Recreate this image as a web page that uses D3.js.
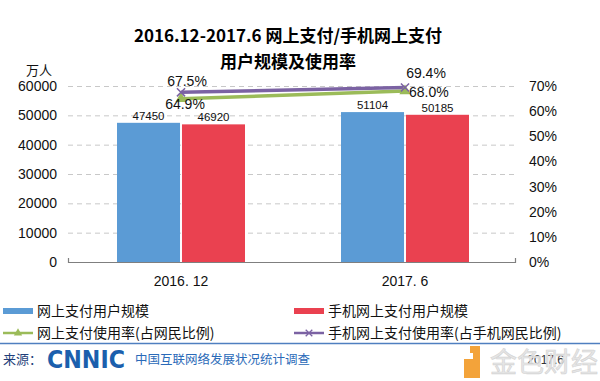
<!DOCTYPE html>
<html><head><meta charset="utf-8">
<script src="https://cdn.jsdelivr.net/npm/d3@7"></script>
<style>
body{margin:0;background:#fff;}
svg{display:block;font-family:Arial,"Liberation Sans","Noto Sans CJK SC",sans-serif;}
.cjk{font-family:"Noto Sans CJK SC",sans-serif;}
</style></head>
<body><svg id="c" width="600" height="381"></svg>
<script>
const categories = ["2016. 12", "2017. 6"];
const seriesNames = ["网上支付用户规模", "手机网上支付用户规模"];
const onlineUsers = [47450, 51104];
const mobileUsers = [46920, 50185];
const rateNames = ["网上支付使用率(占网民比例)", "手机网上支付使用率(占手机网民比例)"];
const onlineRate = [64.9, 68.0];
const mobileRate = [67.5, 69.4];
const leftTicks = [0, 10000, 20000, 30000, 40000, 50000, 60000];
const rightTicks = [0, 10, 20, 30, 40, 50, 60, 70];

const svg = d3.select("#c");
const blue = "#5b9bd5", red = "#ea4150", green = "#9bbb59", purple = "#7b62a3";

const x = d3.scalePoint().domain(categories).range([69, 517]).padding(0.5);
const xs = d3.scaleBand().domain(seriesNames).range([-64, 64]).paddingInner(0.03);
const yL = d3.scaleLinear().domain([0, 60000]).range([262, 86]);
const yR = d3.scaleLinear().domain([0, 70]).range([262, 86]);

// title
svg.append("text").attr("class","cjk").attr("x",288).attr("y",42).attr("text-anchor","middle")
  .attr("font-size",17).attr("font-weight","bold").attr("fill","#000")
  .text("2016.12-2017.6 网上支付/手机网上支付");
svg.append("text").attr("class","cjk").attr("x",288).attr("y",68).attr("text-anchor","middle")
  .attr("font-size",17).attr("font-weight","bold").attr("fill","#000")
  .text("用户规模及使用率");

// grid
const grid = svg.append("g").attr("transform","translate(68,0)")
  .call(d3.axisLeft(yL).tickValues(leftTicks.slice(1)).tickSize(-447).tickFormat(""));
grid.select(".domain").remove();
grid.selectAll("line").attr("stroke","#c8c8c8").attr("stroke-dasharray","5,4");

// left axis labels
const la = svg.append("g").attr("transform","translate(57,0)")
  .call(d3.axisLeft(yL).tickValues(leftTicks).tickSize(0).tickPadding(0).tickFormat(d3.format("d")));
la.select(".domain").remove();
la.selectAll("text").attr("font-size",14).attr("fill","#111").attr("font-family","Arial,'Liberation Sans',sans-serif");
svg.append("text").attr("class","cjk").attr("x",39).attr("y",75).attr("text-anchor","middle")
  .attr("font-size",13).attr("fill","#111").text("万人");

// right axis labels
const ra = svg.append("g").attr("transform","translate(529,0)")
  .call(d3.axisRight(yR).tickValues(rightTicks).tickSize(0).tickPadding(0).tickFormat(d => d + "%"));
ra.select(".domain").remove();
ra.selectAll("text").attr("font-size",14).attr("fill","#111").attr("font-family","Arial,'Liberation Sans',sans-serif");

// bars
const barData = [];
categories.forEach((c,i) => {
  barData.push({c, s: seriesNames[0], v: onlineUsers[i], col: blue});
  barData.push({c, s: seriesNames[1], v: mobileUsers[i], col: red});
});
svg.append("g").selectAll("rect").data(barData).join("rect")
  .attr("x", d => x(d.c) + xs(d.s)).attr("width", xs.bandwidth())
  .attr("y", d => yL(d.v)).attr("height", d => yL(0) - yL(d.v))
  .attr("fill", d => d.col);
svg.append("g").selectAll("text").data(barData).join("text")
  .attr("x", d => x(d.c) + xs(d.s) + xs.bandwidth()/2).attr("y", d => yL(d.v) - 3)
  .attr("text-anchor","middle").attr("font-size",11.5).attr("fill","#111")
  .text(d => d.v);

// axis baseline
const base = svg.append("g");
base.append("path").attr("d", `M68.5,258V262.5H515.5V258`).attr("fill","none").attr("stroke","#7f7f7f").attr("stroke-width",1.2);

// x labels
svg.append("g").selectAll("text").data(categories).join("text")
  .attr("x", d => x(d)).attr("y", 286).attr("text-anchor","middle")
  .attr("font-size",14).attr("fill","#111").text(d => d);

// lines
const line = d3.line().x((d,i) => x(categories[i])).y(d => yR(d));
svg.append("path").datum(onlineRate).attr("d", line).attr("fill","none").attr("stroke",green).attr("stroke-width",3.5);
svg.append("path").datum(mobileRate).attr("d", line).attr("fill","none").attr("stroke",purple).attr("stroke-width",3.5);
const tri = d3.symbol().type(d3.symbolTriangle).size(55);
svg.append("g").selectAll("path").data(onlineRate).join("path")
  .attr("d", tri).attr("transform",(d,i)=>`translate(${x(categories[i])},${yR(d)})`).attr("fill",green);
svg.append("g").selectAll("path").data(mobileRate).join("path")
  .attr("d", d3.symbol().type(d3.symbolX).size(45)).attr("transform",(d,i)=>`translate(${x(categories[i])},${yR(d)})`)
  .attr("fill","none").attr("stroke",purple).attr("stroke-width",1.5);

// rate labels
const fmt = d => d.toFixed(1) + "%";
const rl = svg.append("g").attr("font-size",14).attr("fill","#111");
rl.append("text").attr("x", x(categories[0]) + 6).attr("y", yR(mobileRate[0]) - 6).attr("text-anchor","middle").text(fmt(mobileRate[0]));
rl.append("text").attr("x", x(categories[0]) + 4).attr("y", yR(onlineRate[0]) + 10).attr("text-anchor","middle").text(fmt(onlineRate[0]));
rl.append("text").attr("x", x(categories[1]) + 21).attr("y", yR(mobileRate[1]) - 10).attr("text-anchor","middle").text(fmt(mobileRate[1]));
rl.append("text").attr("x", x(categories[1]) + 4).attr("y", yR(onlineRate[1]) + 6).attr("text-anchor","start").text(fmt(onlineRate[1]));

// legend
const leg = svg.append("g").attr("class","cjk").attr("font-size",14).attr("fill","#111");
const legItems = [
  {x:3, y:311, t:seriesNames[0], col:blue, kind:"bar"},
  {x:294, y:311, t:seriesNames[1], col:red, kind:"bar"},
  {x:3, y:333, t:rateNames[0], col:green, kind:"tri"},
  {x:294, y:333, t:rateNames[1], col:purple, kind:"x"}
];
legItems.forEach(d => {
  if (d.kind === "bar") {
    leg.append("rect").attr("x", d.x).attr("y", d.y - 3).attr("width", 30).attr("height", 6).attr("fill", d.col);
  } else {
    leg.append("line").attr("x1", d.x).attr("x2", d.x + 30).attr("y1", d.y).attr("y2", d.y).attr("stroke", d.col).attr("stroke-width", 2.5);
    if (d.kind === "tri") leg.append("path").attr("d", d3.symbol().type(d3.symbolTriangle).size(30)).attr("transform",`translate(${d.x+15},${d.y})`).attr("fill", d.col);
    else leg.append("path").attr("d", d3.symbol().type(d3.symbolX).size(30)).attr("transform",`translate(${d.x+15},${d.y})`).attr("fill","none").attr("stroke", d.col).attr("stroke-width",1.3);
  }
  leg.append("text").attr("x", d.x + 34).attr("y", d.y + 5).text(d.t);
});

// footer
svg.append("line").attr("x1",0).attr("x2",600).attr("y1",343.5).attr("y2",343.5).attr("stroke","#4f7fc0").attr("stroke-width",1.5);
svg.append("text").attr("class","cjk").attr("x",3).attr("y",364).attr("font-size",13).attr("fill","#1f3f7a").text("来源：");
svg.append("text").attr("x",47).attr("y",368).attr("font-size",25).attr("font-weight","bold")
  .attr("font-family","'DejaVu Sans',sans-serif").attr("fill","#1b5fad").attr("textLength",78).attr("lengthAdjust","spacingAndGlyphs").text("CNNIC");
svg.append("text").attr("class","cjk").attr("x",135).attr("y",364).attr("font-size",12.5).attr("fill","#2a6ab8").text("中国互联网络发展状况统计调查");
// watermark logo
svg.append("rect").attr("x",470).attr("y",346).attr("width",8).attr("height",7).attr("fill","#f3a33a");
svg.append("path").attr("d","M464,359H473V346H480V378H464Z").attr("fill","#f3a33a");
svg.append("text").attr("x",564).attr("y",364).attr("text-anchor","end").attr("font-size",12).attr("fill","#333").text("2017.6");
svg.append("text").attr("class","cjk").attr("x",490).attr("y",372).attr("font-size",27).attr("fill","#e4e4e4")
  .attr("stroke","#cfcfcf").attr("stroke-width",0.6).attr("opacity",0.9).text("金色财经");
</script></body></html>
